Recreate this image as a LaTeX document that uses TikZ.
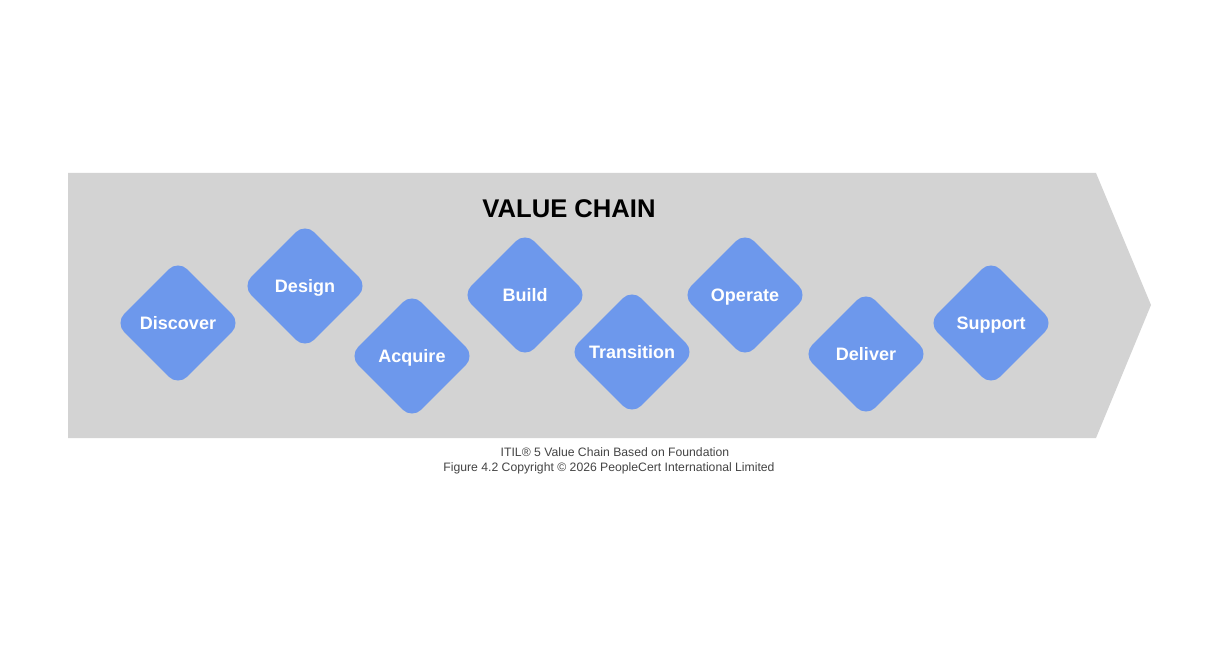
\documentclass[tikz,border=0pt]{standalone}
\usepackage{fontspec}
\setmainfont{Liberation Sans}
\usetikzlibrary{shapes.geometric}
\definecolor{chaingray}{HTML}{D3D3D3}
\definecolor{stepblue}{HTML}{6D98EC}
\definecolor{captiongray}{HTML}{444444}
\begin{document}
\begin{tikzpicture}[x=1pt,y=-1pt,
  stepdiamond/.style={diamond, aspect=1, fill=stepblue, rounded corners=13pt,
    minimum width=126pt, minimum height=126pt, inner sep=0pt,
    text height=13pt, text depth=0pt,
    text=white, font=\fontsize{18}{20}\selectfont\bfseries},
  titletext/.style={font=\fontsize{25.6}{28}\selectfont\bfseries, text=black,
    text height=18pt, text depth=0pt},
  captiontext/.style={font=\fontsize{12.2}{14}\selectfont, text=captiongray}]
\useasboundingbox (0,0) rectangle (1219,650);
\fill[white] (0,0) rectangle (1219,650);
\fill[chaingray] (68,173) -- (1096,173) -- (1151,305) -- (1096,438) -- (68,438) -- cycle;
\node[titletext] (title) at (569,209) {VALUE CHAIN};
\node[stepdiamond] (discover) at (178,323) {Discover};
\node[stepdiamond] (design) at (305,286) {Design};
\node[stepdiamond] (acquire) at (412,356) {Acquire};
\node[stepdiamond] (build) at (525,295) {Build};
\node[stepdiamond] (transition) at (632,352) {Transition};
\node[stepdiamond] (operate) at (745,295) {Operate};
\node[stepdiamond] (deliver) at (866,354) {Deliver};
\node[stepdiamond] (support) at (991,323) {Support};
\node[captiontext] (cap1) at (615,452) {ITIL® 5 Value Chain Based on Foundation};
\node[captiontext] (cap2) at (609,468) {Figure 4.2 Copyright © 2026 PeopleCert International Limited};
\end{tikzpicture}
\end{document}
